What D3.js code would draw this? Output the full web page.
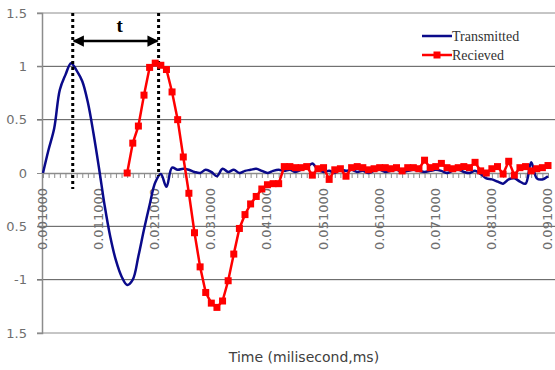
<!DOCTYPE html>
<html>
<head>
<meta charset="utf-8">
<script src="https://cdn.jsdelivr.net/npm/d3@7"></script>
<style>
  body { margin: 0; background: #fff; }
  svg { display: block; }
</style>
</head>
<body>
<div id="chart"></div>
<script>
var svgWidth = 555;
var svgHeight = 370;

// sample times (ms), one every 0.001 from 0.001 to 0.091
var times = d3.range(91).map(i => 0.001 + i * 0.001);

var xTickValues = [0.001, 0.011, 0.021, 0.031, 0.041, 0.051, 0.061, 0.071, 0.081, 0.091];
var xTickLabels = ["0.001000", "0.011000", "0.021000", "0.031000", "0.041000",
  "0.051000", "0.061000", "0.071000", "0.081000", "0.091000"];
var yTickValues = [1.5, 1, 0.5, 0, -0.5, -1, -1.5];
var yTickLabels = ["1.5", "1", "0.5", "0", "0.5", "-1", "1.5"];

var transmitted = [
  0, 0.22, 0.42, 0.78, 0.92, 1.03, 0.96, 0.86, 0.66, 0.37,
  0.04, -0.31, -0.6, -0.82, -0.97, -1.05, -1.0, -0.78, -0.53, -0.3,
  -0.09, -0.01, -0.13, 0.05, 0.03, 0.04, 0.03, 0.01, 0.0, 0.03,
  0.01, -0.03, 0.04, 0.01, 0.03, 0.0, 0.02, 0.03, 0.04, 0.02,
  0.0, 0.02, 0.03, 0.02, 0.03, 0.01, 0.03, 0.05, 0.09, 0.03,
  0.01, 0.02, 0.0, 0.03, 0.02, 0.03, 0.01, 0.02, 0.0, 0.02,
  0.03, 0.01, 0.02, 0.03, 0.01, 0.02, 0.03, 0.02, 0.01, 0.02,
  0.03, 0.02, 0.0, 0.02, 0.03, 0.01, 0.0, 0.02, -0.01, -0.05,
  -0.06, -0.08, -0.1, -0.06, -0.05, -0.08, -0.1, 0.1, -0.05, -0.06,
  -0.03
];

// received signal starts at sample 15
var received = [
  null, null, null, null, null, null, null, null, null, null,
  null, null, null, null, null, 0.0, 0.28, 0.44, 0.73, 0.99,
  1.03, 1.01, 0.97, 0.76, 0.5, 0.15, -0.19, -0.56, -0.88, -1.12,
  -1.22, -1.26, -1.2, -1.01, -0.76, -0.52, -0.39, -0.29, -0.22, -0.15,
  -0.11, -0.1, -0.1, 0.06, 0.06, 0.05, 0.05, 0.06, -0.02, 0.04,
  0.05, -0.06, 0.03, 0.04, -0.03, 0.05, 0.06, 0.05, 0.03, 0.04,
  0.05, 0.05, 0.04, 0.05, 0.02, 0.05, 0.05, 0.04, 0.12, 0.05,
  0.06, 0.09, 0.05, 0.04, 0.05, 0.06, 0.05, 0.1, 0.02, 0.0,
  0.04, 0.06, -0.01, 0.11, -0.02, 0.05, 0.06, 0.02, 0.04, 0.05,
  0.07
];

// delay annotation (ms)
var peakTimes = [0.0063, 0.0216];

var svg = d3.select("#chart")
  .append("svg")
  .attr("width", svgWidth)
  .attr("height", svgHeight);

var x = d3.scaleLinear()
  .domain([0.001, 0.091])
  .range([43, 548]);

var y = d3.scaleLinear()
  .domain([-1.5, 1.5])
  .range([333, 13]);

// horizontal gridlines
svg.append("g")
  .selectAll("line")
  .data(yTickValues.filter(d => d !== 0))
  .enter()
  .append("line")
  .attr("x1", 37)
  .attr("x2", svgWidth)
  .attr("y1", d => y(d))
  .attr("y2", d => y(d))
  .attr("stroke", d => Math.abs(d) === 1.5 ? "#8c8c8c" : "#555")
  .attr("stroke-width", 1);

// y axis
var leftAxis = d3.axisLeft(y)
  .tickValues(yTickValues)
  .tickSize(5)
  .tickPadding(10)
  .tickFormat((d, i) => yTickLabels[i]);

var yAxis = svg.append("g")
  .attr("transform", "translate(42, 0)")
  .call(leftAxis);
yAxis.select(".domain").attr("stroke", "#8c8c8c").attr("stroke-width", 1.5);
yAxis.selectAll(".tick line").attr("stroke", "#8c8c8c");
yAxis.selectAll("text")
  .attr("font-family", "DejaVu Sans")
  .attr("font-size", "13px")
  .attr("fill", "#6e6e6e");

// x axis on the zero line, minor tick per sample
var bottomAxis = d3.axisBottom(x)
  .tickValues(times)
  .tickSize(5)
  .tickSizeOuter(0)
  .tickFormat("");

var xAxis = svg.append("g")
  .attr("transform", `translate(0, ${y(0)})`)
  .call(bottomAxis);
xAxis.select(".domain").attr("stroke", "#8c8c8c").attr("stroke-width", 1.5);
xAxis.selectAll(".tick line").attr("stroke", "#8c8c8c");

// rotated category labels
svg.append("g")
  .selectAll("text")
  .data(xTickValues)
  .enter()
  .append("text")
  .attr("transform", d => `translate(${x(d) + 4}, 188) rotate(-90)`)
  .attr("text-anchor", "end")
  .attr("font-family", "DejaVu Sans")
  .attr("font-size", "13px")
  .attr("fill", "#6e6e6e")
  .text((d, i) => xTickLabels[i]);

// transmitted signal
var lineT = d3.line()
  .x((d, i) => x(times[i]))
  .y(d => y(d))
  .curve(d3.curveCatmullRom);

svg.append("path")
  .datum(transmitted)
  .attr("d", lineT)
  .attr("fill", "none")
  .attr("stroke", "#0a0a8a")
  .attr("stroke-width", 2.5);

// dotted guides and arrow
svg.append("g")
  .selectAll("line")
  .data(peakTimes)
  .enter()
  .append("line")
  .attr("x1", d => x(d))
  .attr("x2", d => x(d))
  .attr("y1", 13)
  .attr("y2", (d, i) => i === 0 ? 189 : 176)
  .attr("stroke", "#000")
  .attr("stroke-width", 3)
  .attr("stroke-dasharray", "3,3");

var defs = svg.append("defs");
defs.append("marker")
  .attr("id", "arrowhead")
  .attr("viewBox", "0 0 10 10")
  .attr("refX", 9)
  .attr("refY", 5)
  .attr("markerWidth", 4.5)
  .attr("markerHeight", 4.5)
  .attr("orient", "auto-start-reverse")
  .append("path")
  .attr("d", "M0,0 L10,5 L0,10 Z")
  .attr("fill", "#000");

svg.append("line")
  .attr("x1", x(peakTimes[0]) + 1)
  .attr("x2", x(peakTimes[1]) - 1)
  .attr("y1", 41)
  .attr("y2", 41)
  .attr("stroke", "#000")
  .attr("stroke-width", 2.5)
  .attr("marker-start", "url(#arrowhead)")
  .attr("marker-end", "url(#arrowhead)");

svg.append("text")
  .attr("x", (x(peakTimes[0]) + x(peakTimes[1])) / 2 + 4)
  .attr("y", 32)
  .attr("text-anchor", "middle")
  .attr("font-family", "Liberation Serif")
  .attr("font-weight", "bold")
  .attr("font-size", "19px")
  .attr("fill", "#000")
  .text("t");

// received signal
var receivedPts = received
  .map((v, i) => ({ t: times[i], v: v }))
  .filter(d => d.v !== null);

var lineR = d3.line()
  .x(d => x(d.t))
  .y(d => y(d.v));

svg.append("path")
  .datum(receivedPts)
  .attr("d", lineR)
  .attr("fill", "none")
  .attr("stroke", "#ff0000")
  .attr("stroke-width", 2.5);

svg.append("g")
  .selectAll("rect")
  .data(receivedPts)
  .enter()
  .append("rect")
  .attr("x", d => x(d.t) - 3.5)
  .attr("y", d => y(d.v) - 3.5)
  .attr("width", 7)
  .attr("height", 7)
  .attr("fill", "#ff0000");

// legend
var legend = svg.append("g").attr("transform", "translate(422, 0)");
legend.append("line")
  .attr("x1", 0).attr("x2", 30)
  .attr("y1", 36).attr("y2", 36)
  .attr("stroke", "#0a0a8a").attr("stroke-width", 2.5);
legend.append("line")
  .attr("x1", 0).attr("x2", 30)
  .attr("y1", 55).attr("y2", 55)
  .attr("stroke", "#ff0000").attr("stroke-width", 2.5);
legend.append("rect")
  .attr("x", 11.5).attr("y", 51.5)
  .attr("width", 7).attr("height", 7)
  .attr("fill", "#ff0000");
legend.append("text")
  .attr("x", 30).attr("y", 40.5)
  .attr("font-family", "Liberation Serif")
  .attr("font-size", "14px")
  .attr("fill", "#333")
  .text("Transmitted");
legend.append("text")
  .attr("x", 30).attr("y", 59.5)
  .attr("font-family", "Liberation Serif")
  .attr("font-size", "14px")
  .attr("fill", "#333")
  .text("Recieved");

// axis title
svg.append("text")
  .attr("x", 304)
  .attr("y", 362)
  .attr("text-anchor", "middle")
  .attr("font-family", "DejaVu Sans")
  .attr("font-size", "14px")
  .attr("fill", "#404040")
  .text("Time (milisecond,ms)");
</script>
</body>
</html>
